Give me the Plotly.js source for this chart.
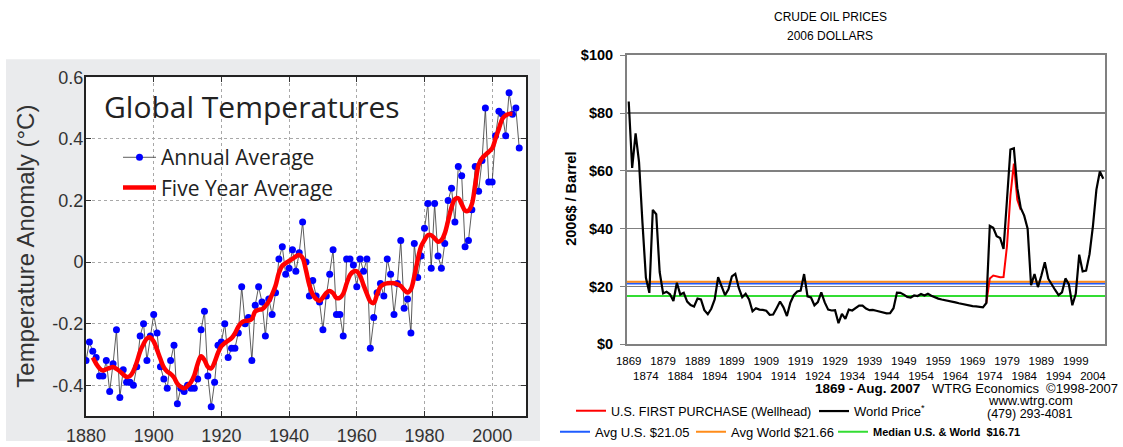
<!DOCTYPE html>
<html><head><meta charset="utf-8">
<script src="https://cdn.plot.ly/plotly-3.0.1.min.js"></script>
<style>html,body{margin:0;padding:0;background:#fff;} #chart{width:1123px;height:447px;}</style>
</head><body><div id="chart"></div>
<script>
// ---------- Global temperatures ----------
const tempYears = [1880,1881,1882,1883,1884,1885,1886,1887,1888,1889,1890,1891,1892,1893,1894,1895,1896,1897,1898,1899,
1900,1901,1902,1903,1904,1905,1906,1907,1908,1909,1910,1911,1912,1913,1914,1915,1916,1917,1918,1919,
1920,1921,1922,1923,1924,1925,1926,1927,1928,1929,1930,1931,1932,1933,1934,1935,1936,1937,1938,1939,
1940,1941,1942,1943,1944,1945,1946,1947,1948,1949,1950,1951,1952,1953,1954,1955,1956,1957,1958,1959,
1960,1961,1962,1963,1964,1965,1966,1967,1968,1969,1970,1971,1972,1973,1974,1975,1976,1977,1978,1979,
1980,1981,1982,1983,1984,1985,1986,1987,1988,1989,1990,1991,1992,1993,1994,1995,1996,1997,1998,1999,
2000,2001,2002,2003,2004,2005,2006,2007,2008];
const annualAnomaly = [-0.32,-0.26,-0.29,-0.31,-0.37,-0.37,-0.32,-0.42,-0.33,-0.22,-0.44,-0.35,-0.39,-0.39,-0.40,-0.34,-0.24,-0.20,-0.32,-0.24,
-0.17,-0.23,-0.34,-0.38,-0.41,-0.32,-0.27,-0.46,-0.41,-0.42,-0.40,-0.41,-0.41,-0.38,-0.22,-0.16,-0.37,-0.47,-0.39,-0.27,
-0.26,-0.20,-0.31,-0.28,-0.28,-0.23,-0.08,-0.20,-0.18,-0.32,-0.14,-0.08,-0.13,-0.24,-0.12,-0.17,-0.10,0.01,0.05,-0.04,
-0.02,0.04,-0.03,0.03,0.13,0.00,-0.11,-0.06,-0.11,-0.13,-0.22,-0.11,-0.04,0.04,-0.17,-0.17,-0.24,0.01,0.01,-0.01,
-0.08,0.01,-0.03,0.01,-0.28,-0.18,-0.10,-0.07,-0.11,0.01,-0.04,-0.17,-0.07,0.07,-0.15,-0.12,-0.23,0.06,-0.05,0.02,
0.11,0.19,-0.02,0.19,0.02,-0.02,0.06,0.20,0.24,0.13,0.31,0.28,0.05,0.07,0.17,0.31,0.23,0.33,0.50,0.26,
0.26,0.41,0.49,0.48,0.41,0.55,0.48,0.50,0.37];
const fiveYearYears = [1882,1883,1884,1885,1886,1887,1888,1889,1890,1891,1892,1893,1894,1895,1896,1897,1898,1899,
1900,1901,1902,1903,1904,1905,1906,1907,1908,1909,1910,1911,1912,1913,1914,1915,1916,1917,1918,1919,
1920,1921,1922,1923,1924,1925,1926,1927,1928,1929,1930,1931,1932,1933,1934,1935,1936,1937,1938,1939,
1940,1941,1942,1943,1944,1945,1946,1947,1948,1949,1950,1951,1952,1953,1954,1955,1956,1957,1958,1959,
1960,1961,1962,1963,1964,1965,1966,1967,1968,1969,1970,1971,1972,1973,1974,1975,1976,1977,1978,1979,
1980,1981,1982,1983,1984,1985,1986,1987,1988,1989,1990,1991,1992,1993,1994,1995,1996,1997,1998,1999,
2000,2001,2002,2003,2004,2005,2006];
const fiveYearAnomaly = [-0.31,-0.33,-0.345,-0.352,-0.348,-0.344,-0.341,-0.347,-0.355,-0.365,-0.373,-0.37,-0.354,-0.325,-0.29,-0.266,-0.248,-0.245,
-0.258,-0.285,-0.315,-0.342,-0.356,-0.363,-0.375,-0.395,-0.405,-0.41,-0.402,-0.39,-0.368,-0.33,-0.306,-0.318,-0.34,-0.345,-0.325,-0.295,
-0.273,-0.263,-0.255,-0.247,-0.232,-0.21,-0.196,-0.191,-0.19,-0.185,-0.16,-0.155,-0.153,-0.143,-0.128,-0.105,-0.077,-0.035,-0.012,-0.004,
0.004,0.01,0.018,0.023,0.013,-0.027,-0.075,-0.105,-0.12,-0.126,-0.115,-0.1,-0.094,-0.101,-0.117,-0.116,-0.103,-0.07,-0.042,-0.031,
-0.03,-0.045,-0.075,-0.103,-0.128,-0.133,-0.105,-0.08,-0.072,-0.069,-0.068,-0.069,-0.072,-0.078,-0.09,-0.099,-0.088,-0.046,0.007,0.05,
0.071,0.087,0.087,0.077,0.066,0.071,0.093,0.135,0.178,0.204,0.207,0.188,0.167,0.167,0.188,0.252,0.316,0.337,0.348,0.358,
0.369,0.401,0.433,0.465,0.476,0.481,0.481];
const tempXTicks = [1880,1900,1920,1940,1960,1980,2000];
const tempYTicks = [-0.4,-0.2,0,0.2,0.4,0.6];
const tempYTickText = ['-0.4','-0.2','0','0.2','0.4','0.6'];

// ---------- Crude oil prices (2006 dollars) ----------
const oilYears = [1869,1870,1871,1872,1873,1874,1875,1876,1877,1878,1879,
1880,1881,1882,1883,1884,1885,1886,1887,1888,1889,1890,1891,1892,1893,1894,1895,1896,1897,1898,1899,
1900,1901,1902,1903,1904,1905,1906,1907,1908,1909,1910,1911,1912,1913,1914,1915,1916,1917,1918,1919,
1920,1921,1922,1923,1924,1925,1926,1927,1928,1929,1930,1931,1932,1933,1934,1935,1936,1937,1938,1939,
1940,1941,1942,1943,1944,1945,1946,1947,1948,1949,1950,1951,1952,1953,1954,1955,1956,1957,1958,1959,
1960,1961,1962,1963,1964,1965,1966,1967,1968,1969,1970,1971,1972,1973,1974,1975,1976,1977,1978,1979,
1980,1981,1982,1983,1984,1985,1986,1987,1988,1989,1990,1991,1992,1993,1994,1995,1996,1997,1998,1999,
2000,2001,2002,2003,2004,2005,2006,2007];
const worldPrice = [84,61,73,63,42,23,17.8,46.5,45,25,17.6,
18.2,17.3,15,21.3,17.2,17.8,14.8,13.6,13.1,15.8,15.5,11.8,10.4,12.3,15.5,23.2,20.3,17,19,23.5,
24.4,19.5,16.3,17.5,15.5,11.4,12.5,12,11.9,11.6,10.2,10.3,12.5,14.8,12.8,9.8,14.4,17,18.3,18.6,
24.3,16.6,16.2,13.5,14.6,18,14.5,12,11.7,11.8,7.3,10.5,8.8,12,11.7,12.5,13.4,13.4,12.4,11.8,
11.9,11.6,11.3,11,10.7,10.8,12.5,17.9,17.8,17.2,16.4,16.2,16.9,16.7,17.4,16.9,17.5,16.8,16.2,15.8,
15.5,15.3,15.1,14.8,14.5,14.2,13.9,13.6,13.4,13.2,13.1,12.9,12.8,14.3,41,40.3,37.4,36.8,33,50,
67.4,67.8,54,47.2,44.5,40,20.5,24.3,19.8,23.8,28.4,22.7,20.5,18.8,17,18,22.8,20.7,13.5,17.5,
31,25.2,25.5,31.2,41,53.5,59.8,57.3];
const usYears = [1973,1974,1975,1976,1977,1978,1979,1980,1981,1982,1983];
const usFirstPurchase = [14.3,22.8,23.8,23.5,23.2,23.3,34,51.5,62.5,50,46.5];
const avgUS = 21.05;
const avgWorld = 21.66;
const medianAll = 16.71;
const oilTickVals = [1869,1874,1879,1884,1889,1894,1899,1904,1909,1914,1919,1924,1929,1934,1939,1944,1949,1954,1959,1964,1969,1974,1979,1984,1989,1994,1999,2004];
const oilTickText = oilTickVals.map((v,i) => i % 2 === 0 ? String(v) : '\u00a0<br>' + v);
const oilYTicks = [0,20,40,60,80,100];
const oilYTickText = ['<b>&#36;0</b>','<b>&#36;20</b>','<b>&#36;40</b>','<b>&#36;60</b>','<b>&#36;80</b>','<b>&#36;100</b>'];

const W = 1123, H = 447;
const px = v => v / W;
const py = v => (H - v) / H;
const spanX = [oilYears[0] - 0.5, oilYears[oilYears.length - 1] + 0.5];

const sans = 'Liberation Sans, Arial, sans-serif';
const open = 'Open Sans, Noto Sans, sans-serif';

const traces = [
  {x: tempYears, y: annualAnomaly, type:'scatter', mode:'lines+markers', name:'Annual Average',
   line:{color:'#333333', width:0.8}, marker:{color:'#0000ff', size:7}, xaxis:'x', yaxis:'y', legend:'legend'},
  {x: fiveYearYears, y: fiveYearAnomaly, type:'scatter', mode:'lines', name:'Five Year Average',
   line:{color:'#ff0000', width:4.5, shape:'spline', smoothing:1}, xaxis:'x', yaxis:'y', legend:'legend'},
  {x: spanX, y: [avgUS, avgUS], type:'scatter', mode:'lines', name:'Avg U.S. &#36;21.05',
   line:{color:'#1f5cff', width:2}, xaxis:'x2', yaxis:'y2', legend:'legend4'},
  {x: spanX, y: [avgWorld, avgWorld], type:'scatter', mode:'lines', name:'Avg World &#36;21.66',
   line:{color:'#ff8c1a', width:2}, xaxis:'x2', yaxis:'y2', legend:'legend5'},
  {x: spanX, y: [medianAll, medianAll], type:'scatter', mode:'lines',
   name:'<b>Median U.S. &amp; World  &#36;16.71</b>',
   line:{color:'#33dd33', width:2}, xaxis:'x2', yaxis:'y2', legend:'legend6'},
  {x: usYears, y: usFirstPurchase, type:'scatter', mode:'lines', name:'U.S. FIRST PURCHASE (Wellhead)',
   line:{color:'#ff0000', width:2}, xaxis:'x2', yaxis:'y2', legend:'legend2'},
  {x: oilYears, y: worldPrice, type:'scatter', mode:'lines', name:'World Price<sup>*</sup>',
   line:{color:'#000000', width:2.2}, xaxis:'x2', yaxis:'y2', legend:'legend3'}
];

function rowLegend(x, y, size) {
  return {orientation:'h', x:px(x), y:py(y), xanchor:'left', yanchor:'middle', bgcolor:'rgba(0,0,0,0)',
          borderwidth:0, font:{family:sans, size:size, color:'#000'}};
}

const layout = {
  width: W, height: H, margin:{l:0,r:0,t:0,b:0},
  paper_bgcolor:'#ffffff', plot_bgcolor:'#ffffff', showlegend:true,
  xaxis:{domain:[px(86), px(526)], range:[1880,2010], tickvals: tempXTicks, ticks:'inside', ticklen:5,
    tickcolor:'#333', showline:true, linecolor:'#222', linewidth:2, mirror:'ticks',
    showgrid:true, gridcolor:'#a8a8a8', griddash:'dot', gridwidth:1, zeroline:false,
    tickfont:{family:sans, size:18, color:'#333'}, ticklabelstandoff:2, anchor:'y', fixedrange:true},
  yaxis:{domain:[py(421.7), py(78.3)], range:[-0.5,0.6], tickvals: tempYTicks, ticktext: tempYTickText,
    ticks:'inside', ticklen:5, tickcolor:'#333', showline:true, linecolor:'#222', linewidth:2, mirror:'ticks',
    showgrid:true, gridcolor:'#a8a8a8', griddash:'dot', gridwidth:1, zeroline:false,
    tickfont:{family:sans, size:18, color:'#333'}, ticklabelstandoff:-3, anchor:'x', fixedrange:true},
  xaxis2:{domain:[px(627), px(1105)], range: spanX, tickvals: oilTickVals, ticktext: oilTickText, tickangle:0,
    ticks:'', showline:true, mirror:true, linecolor:'#808080', linewidth:2, showgrid:false, zeroline:false,
    tickfont:{family:sans, size:11.5, color:'#000'}, ticklabelstandoff:5, anchor:'y2', fixedrange:true},
  yaxis2:{domain:[py(349), py(56)], range:[0,100], tickvals: oilYTicks, ticktext: oilYTickText, ticks:'outside', ticklen:5,
    tickcolor:'#808080', showline:true, mirror:true, linecolor:'#808080', linewidth:2,
    showgrid:true, gridcolor:'#808080', gridwidth:1.5, zeroline:false,
    tickfont:{family:sans, size:14.5, color:'#000'}, ticklabelstandoff:4, anchor:'x2', fixedrange:true},
  legend:{x:px(118), y:py(139), xanchor:'left', yanchor:'top', bgcolor:'rgba(0,0,0,0)', borderwidth:0,
    font:{family:open, size:21, color:'#222'}, tracegroupgap:0, itemwidth:33},
  legend2: rowLegend(571, 416.7, 12.5),
  legend3: rowLegend(814, 416.7, 13),
  legend4: rowLegend(555, 437.7, 13),
  legend5: rowLegend(691, 437.7, 13),
  legend6: rowLegend(833, 437.7, 11),
  shapes:[
    {type:'rect', xref:'paper', yref:'paper', x0:px(6), x1:px(540), y0:0, y1:py(60), layer:'below',
     fillcolor:'#eaebed', line:{width:0}},
    {type:'rect', xref:'paper', yref:'paper', x0:px(86), x1:px(526), y0:py(421.7), y1:py(78.3), layer:'below',
     fillcolor:'#ffffff', line:{width:0}}
  ],
  annotations:[
    {text:'Global Temperatures', xref:'paper', yref:'paper', x:px(102), y:py(108), xanchor:'left', yanchor:'middle',
     showarrow:false, font:{family:open, size:30, color:'#222'}},
    {text:'Temperature Anomaly (°C)', xref:'paper', yref:'paper', x:px(26), y:py(250), textangle:-90,
     xanchor:'center', yanchor:'middle', showarrow:false, font:{family:sans, size:24, color:'#333'}},
    {text:'CRUDE OIL PRICES', xref:'paper', yref:'paper', x:px(830.5), y:py(17.7), xanchor:'center', yanchor:'middle',
     showarrow:false, font:{family:sans, size:12, color:'#000'}},
    {text:'2006 DOLLARS', xref:'paper', yref:'paper', x:px(830), y:py(36.7), xanchor:'center', yanchor:'middle',
     showarrow:false, font:{family:sans, size:12, color:'#000'}},
    {text:'<b>2006&#36; / Barrel</b>', xref:'paper', yref:'paper', x:px(571.5), y:py(202), textangle:-90,
     xanchor:'center', yanchor:'middle', showarrow:false, font:{family:sans, size:14.5, color:'#000'}},
    {text:'<b>1869 - Aug. 2007</b>', xref:'paper', yref:'paper', x:px(867), y:py(393.5), xanchor:'center', yanchor:'middle',
     showarrow:false, font:{family:sans, size:13.5, color:'#000'}},
    {text:'WTRG Economics  ©1998-2007', xref:'paper', yref:'paper', x:px(1120), y:py(393.5), xanchor:'right', yanchor:'middle',
     showarrow:false, font:{family:sans, size:13, color:'#000'}},
    {text:'www.wtrg.com', xref:'paper', yref:'paper', x:px(1030), y:py(405.5), xanchor:'center', yanchor:'middle',
     showarrow:false, font:{family:sans, size:13, color:'#000'}},
    {text:'(479) 293-4081', xref:'paper', yref:'paper', x:px(1030), y:py(420), xanchor:'center', yanchor:'middle',
     showarrow:false, font:{family:sans, size:12.5, color:'#000'}}
  ]
};

Plotly.newPlot('chart', traces, layout, {staticPlot:true, displayModeBar:false});
</script>
</body></html>
